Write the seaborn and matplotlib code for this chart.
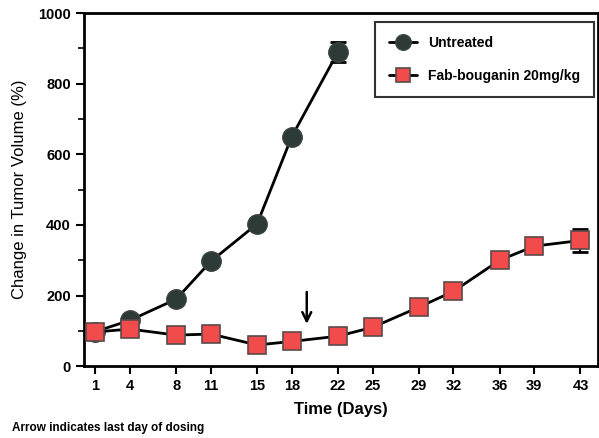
import numpy as np
import pandas as pd
import matplotlib
matplotlib.use("Agg")
import matplotlib.pyplot as plt
import seaborn as sns

# data
days_untreated = [1, 4, 8, 11, 15, 18, 22]
untreated = [98, 130, 190, 297, 403, 650, 890]
untreated_err = [0, 0, 0, 0, 0, 0, 28]

days_fab = [1, 4, 8, 11, 15, 18, 22, 25, 29, 32, 36, 39, 43]
fab = [97, 105, 88, 91, 60, 70, 85, 110, 167, 212, 300, 340, 356]
fab_err = [0, 0, 0, 0, 0, 0, 0, 0, 0, 0, 0, 8, 32]

xticks = [1, 4, 8, 11, 15, 18, 22, 25, 29, 32, 36, 39, 43]
last_dose_day = 19.3

sns.set_style("ticks", {"axes.edgecolor": "black", "text.color": "black",
                        "xtick.color": "black", "ytick.color": "black",
                        "axes.labelcolor": "black"})
plt.rcParams["font.family"] = ["Liberation Sans", "DejaVu Sans"]

fig = plt.figure(figsize=(5.99, 4.38), dpi=100)
ax = fig.add_axes([0.140, 0.164, 0.858, 0.806])

df_u = pd.DataFrame({"day": days_untreated, "val": untreated, "err": untreated_err})
df_f = pd.DataFrame({"day": days_fab, "val": fab, "err": fab_err})

# error bars (only where visible)
for d in (df_u, df_f):
    e = d[d["err"] > 0]
    ax.errorbar(e["day"], e["val"], yerr=e["err"], fmt="none", ecolor="black",
                elinewidth=1.5, capsize=6, capthick=2, zorder=2)

sns.lineplot(data=df_u, x="day", y="val", ax=ax, color="black", linewidth=2,
             marker="o", markersize=14, markerfacecolor="#2e3a37",
             markeredgecolor="#3a4542", markeredgewidth=1, label="Untreated", zorder=3)
sns.lineplot(data=df_f, x="day", y="val", ax=ax, color="black", linewidth=2,
             marker="s", markersize=13, markerfacecolor="#f24b4b",
             markeredgecolor="#5a4a48", markeredgewidth=1.2,
             label="Fab-bouganin 20mg/kg", zorder=3)

# arrow for last day of dosing
ax.annotate("", xy=(last_dose_day, 112), xytext=(last_dose_day, 218),
            arrowprops=dict(arrowstyle="->", color="black", lw=1.8,
                            mutation_scale=16))

ax.set_xlim(0, 44.5)
ax.set_ylim(0, 1000)
ax.set_xticks(xticks)
ax.set_yticks([0, 200, 400, 600, 800, 1000])
ax.set_yticks([100, 300, 500, 700, 900], minor=True)
ax.tick_params(axis="both", which="major", labelsize=10.5, width=1.5, length=6)
ax.tick_params(axis="y", which="minor", width=1.2, length=4)
for lab in ax.get_xticklabels() + ax.get_yticklabels():
    lab.set_fontweight("bold")
for s in ax.spines.values():
    s.set_linewidth(2)
    s.set_visible(True)

ax.set_xlabel("Time (Days)", fontsize=12, fontweight="bold", labelpad=6)
ax.set_ylabel("Change in Tumor Volume (%)", fontsize=12, labelpad=8)

leg = ax.legend(loc="upper right", fontsize=10, frameon=True, fancybox=False,
                borderpad=1.0, labelspacing=1.4, handlelength=2.0,
                markerscale=0.8, borderaxespad=0,
                bbox_to_anchor=(0.992, 0.975))
leg.get_frame().set_edgecolor("black")
leg.get_frame().set_linewidth(1.5)
for t in leg.get_texts():
    t.set_fontweight("bold")

fig.text(0.02, 0.015, "Arrow indicates last day of dosing", fontsize=8.5,
         fontweight="bold")

fig.savefig("out.png", dpi=100)
